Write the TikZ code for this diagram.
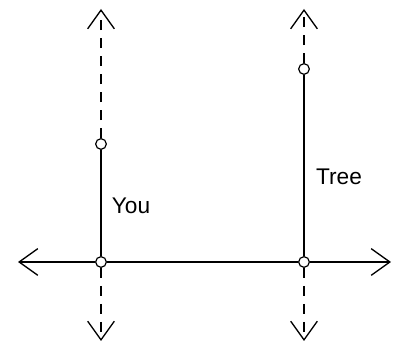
\documentclass[tikz,border=0pt]{standalone}
\usepackage{fontspec}
\setmainfont{Liberation Sans}
\usetikzlibrary{arrows.meta}

\begin{document}
\begin{tikzpicture}[x=0.75pt, y=0.75pt, >={Straight Barb[length=14pt, width=20pt]}, line width=1pt,
    spot/.style={circle, draw, fill=white, inner sep=0pt, minimum size=8pt, line width=0.9pt},
    guide/.style={dash pattern=on 7.5pt off 6pt}]
    \useasboundingbox (0,0) rectangle (393,349);
    % Points
    \node[spot] (youfoot) at (101,87) {};
    \node[spot] (youhead) at (101,205) {};
    \node[spot] (treefoot) at (304,87) {};
    \node[spot] (treehead) at (304,280) {};
    % Free ends
    \coordinate (west) at (18,87); \coordinate (east) at (391,87);
    \coordinate (youup) at (101,340); \coordinate (youdown) at (101,8);
    \coordinate (treeup) at (304,340); \coordinate (treedown) at (304,8);
    % Ground
    \draw[->] (youfoot) -- (west);
    \draw (youfoot) -- (treefoot);
    \draw[->] (treefoot) -- (east);
    % Heights
    \draw (youfoot) -- (youhead);
    \draw (treefoot) -- (treehead);
    \draw[->, guide] (youhead) -- (youup);
    \draw[->, guide] (youfoot) -- (youdown);
    \draw[->, guide] (treehead) -- (treeup);
    \draw[->, guide] (treefoot) -- (treedown);
    % Labels
    \node[font=\fontsize{17}{20}\selectfont] (youlbl) at (131,143) {You};
    \node[font=\fontsize{17}{20}\selectfont] (treelbl) at (339,172) {Tree};
\end{tikzpicture}
\end{document}
